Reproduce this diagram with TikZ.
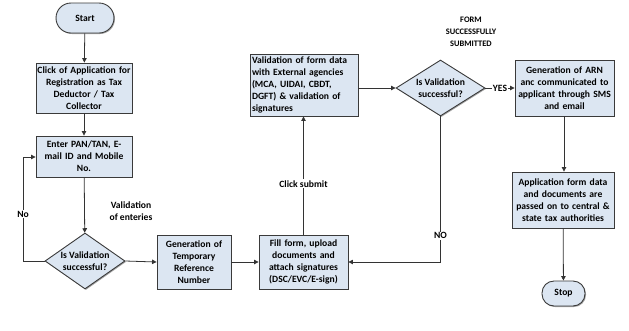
\documentclass[tikz,border=0pt]{standalone}
\usepackage{fontspec}
\setmainfont{Carlito}
\usetikzlibrary{shapes.geometric,arrows.meta,shadows}
\definecolor{boxfill}{HTML}{DCE6F2}
\definecolor{boxline}{HTML}{3A3A3A}
\definecolor{conn}{HTML}{333333}
\begin{document}
\begin{tikzpicture}[x=1pt,y=-1pt,
  font=\bfseries\fontsize{9.6}{12}\selectfont,
  base/.style={draw=boxline,fill=boxfill,line width=0.9pt,inner sep=1pt,align=center,
    drop shadow={shadow xshift=1pt,shadow yshift=-1pt,opacity=0.35,fill=black}},
  procbox/.style={base,rectangle},
  termbox/.style={base,rectangle,rounded corners=12pt},
  decbox/.style={base,diamond,aspect=1.5,inner sep=0pt},
  conn/.style={draw=conn,line width=0.8pt,-{Triangle[length=4.5pt,width=4.5pt]}},
  lbl/.style={fill=white,inner sep=1pt,align=center}]
\useasboundingbox (0,0) rectangle (629,330);

\node[termbox,minimum width=58pt,minimum height=30pt,rounded corners=15pt] (start) at (85,18) {Start};
\node[procbox,minimum width=96pt,minimum height=50pt,text width=94pt] (b1) at (84,88)
  {Click of Application for\\Registration as Tax\\Deductor / Tax\\Collector};
\node[procbox,minimum width=96pt,minimum height=41pt,text width=94pt] (b2) at (84,156.5)
  {Enter PAN/TAN, E-\\mail ID and Mobile\\No.};
\node[decbox,minimum width=80pt,minimum height=56pt] (d1) at (85,261)
  {Is Validation\\successful?};
\node[procbox,minimum width=74pt,minimum height=54pt,text width=72pt] (b3) at (194,262)
  {Generation of\\Temporary\\Reference\\Number};
\node[procbox,minimum width=89pt,minimum height=54pt,text width=87pt] (b4) at (303.5,262)
  {Fill form, upload\\documents and\\attach signatures\\(DSC/EVC/E-sign)};
\node[procbox,minimum width=108pt,minimum height=62pt,text width=104pt,align=left] (b5) at (304,85)
  {Validation of form data\\with External agencies\\(MCA, UIDAI, CBDT,\\DGFT) \& validation of\\signatures};
\node[decbox,minimum width=89pt,minimum height=56pt] (d2) at (440.5,88)
  {Is Validation\\successful?};
\node[procbox,minimum width=97pt,minimum height=56pt,text width=97pt] (b6) at (564.5,88)
  {Generation of ARN\\anc communicated to\\applicant through SMS\\and email};
\node[procbox,minimum width=102pt,minimum height=56pt,text width=100pt] (b7) at (563,200)
  {Application form data\\and documents are\\passed on to central \&\\state tax authorities};
\node[termbox,minimum width=43pt,minimum height=25pt] (stop) at (563.5,293.5) {Stop};

\node[align=center,font=\bfseries\fontsize{8.4}{12}\selectfont] (form) at (471,32)
  {FORM\\SUCCESSFULLY\\SUBMITTED};
\node[align=center] (valent) at (131,211) {Validation\\of enteries};

\coordinate (lp) at (23,157);

\draw[conn] (start) -- (b1);
\draw[conn] (b1) -- (b2);
\draw[conn] (b2) -- (d1);
\draw[conn] (d1.west) -| (lp) -- (b2.west |- lp);
\node[lbl] (no1) at (23,214) {No};
\draw[conn] (d1.east) -- (b3.west);
\draw[conn] (b3.east) -- (b4.west);
\draw[conn] (b4.north) -- node[lbl,pos=0.43] (cs) {Click submit} (b5.south -| b4.north);
\draw[conn] (b5.east |- d2.west) -- (d2.west);
\draw[conn] (d2.east) -- node[lbl,pos=0.5] (yes) {YES} (b6.west);
\draw[conn] (d2.south) |- node[lbl,pos=0.41] (no2) {NO} (b4.east);
\draw[conn] (b6.south -| 564,0) -- (b7.north -| 564,0);
\draw[conn] (b7) -- (stop);
\end{tikzpicture}
\end{document}
